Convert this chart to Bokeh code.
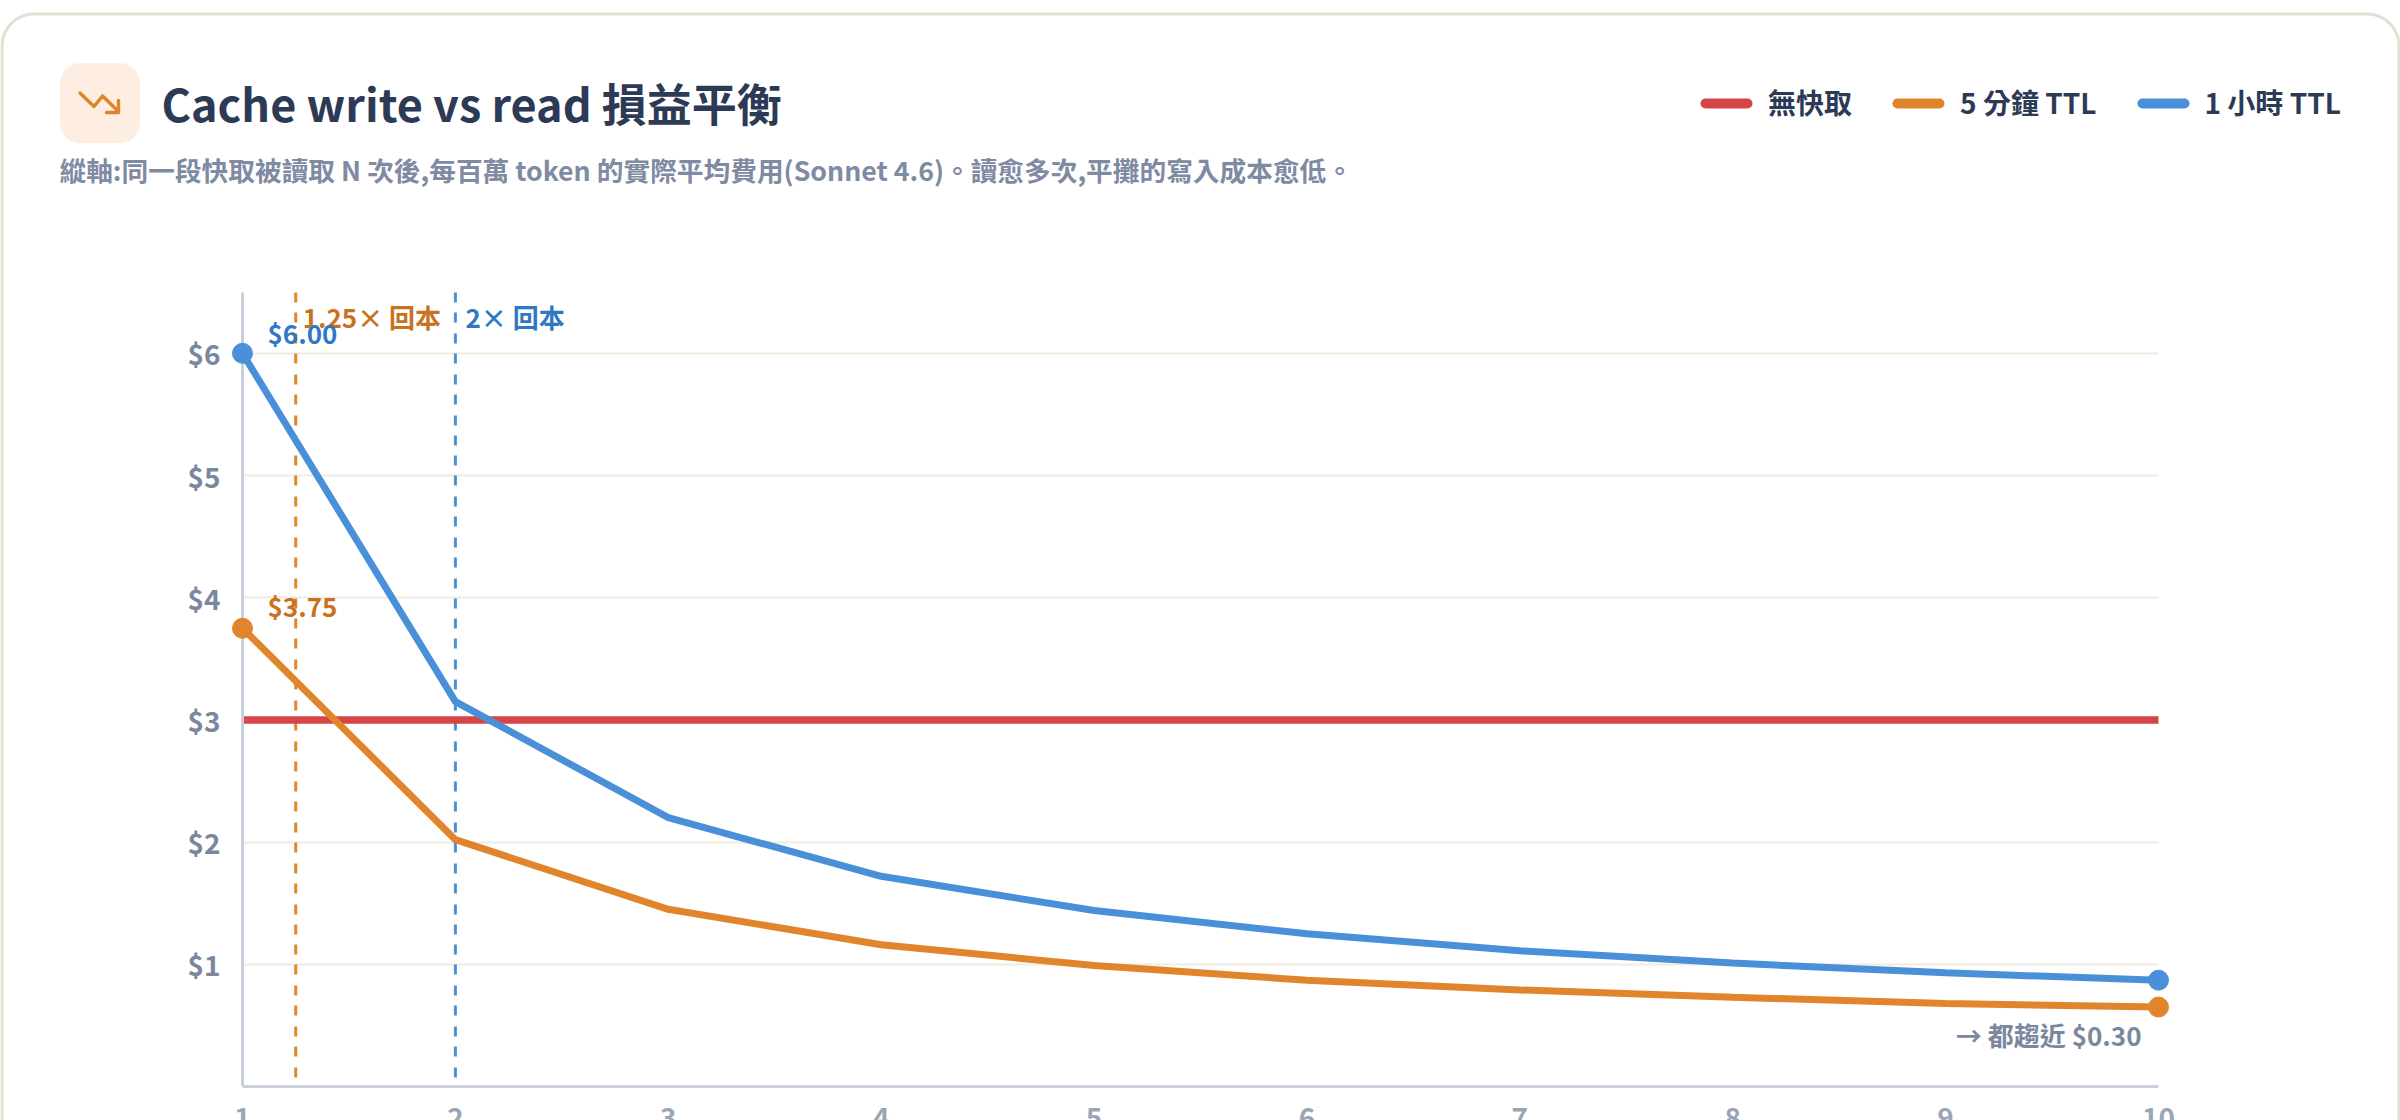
from bokeh.plotting import figure
from bokeh.embed import file_html
from bokeh.resources import INLINE
from bokeh.core.properties import value
from bokeh.models import (Range1d, FixedTicker, Label, BoxAnnotation, PolyAnnotation,
                          Legend, LegendItem)

reads = [1, 2, 3, 4, 5, 6, 7, 8, 9, 10]
no_cache = [3.0, 3.0, 3.0, 3.0, 3.0, 3.0, 3.0, 3.0, 3.0, 3.0]
ttl_5m = [3.75, 2.02, 1.45, 1.16, 0.99, 0.87, 0.79, 0.73, 0.68, 0.65]
ttl_1h = [6.00, 3.15, 2.20, 1.72, 1.44, 1.25, 1.11, 1.01, 0.93, 0.87]
y_ticks = [1, 2, 3, 4, 5, 6]
y_tick_labels = ["$1", "$2", "$3", "$4", "$5", "$6"]
breakeven_x = [1.25, 2]
breakeven_labels = ["1.25× 回本", "2× 回本"]
series_names = ["無快取", "5 分鐘 TTL", "1 小時 TTL"]
title_text = "Cache write vs read 損益平衡"
subtitle_text = "縱軸:同一段快取被讀取 N 次後,每百萬 token 的實際平均費用(Sonnet 4.6)。讀愈多次,平攤的寫入成本愈低。"
note_text = "→ 都趨近 $0.30"

RED, ORANGE, BLUE = "#d64545", "#e0852b", "#4a90d9"
ORANGE_TXT, BLUE_TXT = "#c9711c", "#2f78c4"
INK, SLATE = "#2d3a55", "#7b879f"
FONT = "Noto Sans CJK TC"
DASH = "10 10 10 11 10 10 10 11 10 10 10 11 10 10 10 10"

# The plot frame fills the canvas, the axes are pinned to the data origin (1, 0)
W, H = 2400, 1120
X1_PX, X10_PX, Y0_PX, YTOP_PX, PX_PER_Y = 242, 2158, 1086, 292, 122.2
px_per_x = (X10_PX - X1_PX) / 9
y_top = (Y0_PX - YTOP_PX) / PX_PER_Y

p = figure(width=W, height=H, output_backend="svg", toolbar_location=None,
           x_range=Range1d(1 - X1_PX / px_per_x, 10 + (W - X10_PX) / px_per_x),
           y_range=Range1d(-(H - Y0_PX) / PX_PER_Y, Y0_PX / PX_PER_Y),
           min_border_left=0, min_border_right=0, min_border_top=0, min_border_bottom=0,
           background_fill_color="#ffffff", border_fill_color="#ffffff")
p.outline_line_color = None

p.xgrid.visible = False
p.ygrid.ticker = FixedTicker(ticks=y_ticks)
p.ygrid.grid_line_color = "#f2ebe0"
p.ygrid.grid_line_width = 2
p.ygrid.cross_bounds = (1, 10)

for ax in (p.xaxis[0], p.yaxis[0]):
    ax.axis_line_color = "#c9cfdb"
    ax.axis_line_width = 3
    ax.major_tick_line_color = None
    ax.minor_tick_line_color = None
    ax.major_label_text_font = FONT
    ax.major_label_text_font_style = "bold"
    ax.major_label_text_font_size = "28px"

p.yaxis[0].fixed_location = 1
p.yaxis[0].bounds = (0, y_top)
p.yaxis[0].ticker = FixedTicker(ticks=y_ticks)
p.yaxis[0].major_label_overrides = dict(zip(y_ticks, y_tick_labels))
p.yaxis[0].major_label_text_color = SLATE
p.yaxis[0].major_label_standoff = 16
p.yaxis[0].major_label_text_line_height = 1.4

p.xaxis[0].fixed_location = 0
p.xaxis[0].bounds = (1, 10)
p.xaxis[0].ticker = FixedTicker(ticks=reads)
p.xaxis[0].major_label_text_color = "#9aa5b8"
p.xaxis[0].major_label_standoff = 14

# break-even guides, drawn from the top of the plot down
for bx, col in zip(breakeven_x, [ORANGE, BLUE]):
    p.line([bx, bx], [y_top, 0], line_color=col, line_width=3, line_dash=DASH)

p.line(reads, no_cache, line_color=RED, line_width=7.5)
p.line(reads, ttl_5m, line_color=ORANGE, line_width=7)
p.line(reads, ttl_1h, line_color=BLUE, line_width=7)

p.scatter([reads[0], reads[-1]], [ttl_5m[0], ttl_5m[-1]], size=20, color=ORANGE, level="annotation")
p.scatter([reads[0], reads[-1]], [ttl_1h[0], ttl_1h[-1]], size=20, color=BLUE, level="annotation")

def tag(x, y, txt, col, dx, dy, align="left"):
    p.text([x], [y], text=[txt], text_color=col, text_font=value(FONT), text_font_style="bold",
           text_font_size="26px", text_align=align, text_baseline="middle",
           x_offset=dx, y_offset=dy)

tag(breakeven_x[0], y_top, breakeven_labels[0], ORANGE_TXT, 7, 24)
tag(breakeven_x[1], y_top, breakeven_labels[1], BLUE_TXT, 10, 24)
tag(reads[0], ttl_1h[0], f"${ttl_1h[0]:.2f}", BLUE_TXT, 25, -21)
tag(reads[0], ttl_5m[0], f"${ttl_5m[0]:.2f}", ORANGE_TXT, 25, -23)
tag(reads[-1], ttl_5m[-1], note_text, SLATE, -17, 27, "right")

# legend: its own glyph is transparent, the rounded swatches are drawn as boxes beside the labels
items = []
for name, col, sx in zip(series_names, [RED, ORANGE, BLUE], [1700, 1892, 2137]):
    r = p.line([0], [100], line_color=col, line_width=10, line_alpha=0)
    items.append(LegendItem(label=name, renderers=[r]))
    p.add_layout(BoxAnnotation(left=sx, right=sx + 52, top=98, bottom=108,
                               left_units="canvas", right_units="canvas",
                               top_units="canvas", bottom_units="canvas",
                               fill_color=col, fill_alpha=1, line_alpha=0, border_radius=5))
legend = Legend(items=items, orientation="horizontal", location=(1705, 998),
                glyph_width=42, glyph_height=36, label_standoff=21, spacing=45,
                padding=0, margin=0, border_line_color=None, background_fill_alpha=0,
                label_text_font=FONT, label_text_font_style="bold",
                label_text_font_size="28px", label_text_color=INK)
p.add_layout(legend, "center")

# card outline, icon, title and subtitle in canvas pixels
card = BoxAnnotation(left=1.5, right=2398.5, top=13.5, bottom=1400,
                     left_units="canvas", right_units="canvas", top_units="canvas", bottom_units="canvas",
                     fill_alpha=0, line_color="#e4dfd2", line_width=3, line_alpha=1, border_radius=32)
p.add_layout(card)
icon_bg = BoxAnnotation(left=59.5, right=139.5, top=62.5, bottom=142.5,
                        left_units="canvas", right_units="canvas", top_units="canvas", bottom_units="canvas",
                        fill_color="#fdeee1", fill_alpha=1, line_alpha=0, border_radius=20)
p.add_layout(icon_bg)
for path in ([(79.5, 92.5), (93.5, 106), (102, 95.5), (118, 111)],
             [(118, 100), (118, 112), (106, 112)]):
    xs = [a for a, _ in path] + [a for a, _ in path[-2::-1]]
    ys = [b for _, b in path] + [b for _, b in path[-2::-1]]
    p.add_layout(PolyAnnotation(xs=xs, ys=ys, xs_units="canvas", ys_units="canvas",
                                fill_alpha=0, line_color="#de8429", line_width=3.4, line_alpha=1,
                                line_join="round", line_cap="round"))

p.add_layout(Label(x=161, y=102, x_units="canvas", y_units="canvas", text=title_text,
                   text_font=FONT, text_font_style="bold", text_font_size="45px",
                   text_color=INK, text_baseline="middle"))
p.add_layout(Label(x=59, y=169, x_units="canvas", y_units="canvas", text=subtitle_text,
                   text_font=FONT, text_font_style="bold", text_font_size="26.7px",
                   text_color="#7f8aa3", text_baseline="middle"))

open("out.html", "w").write(file_html(p, INLINE))
